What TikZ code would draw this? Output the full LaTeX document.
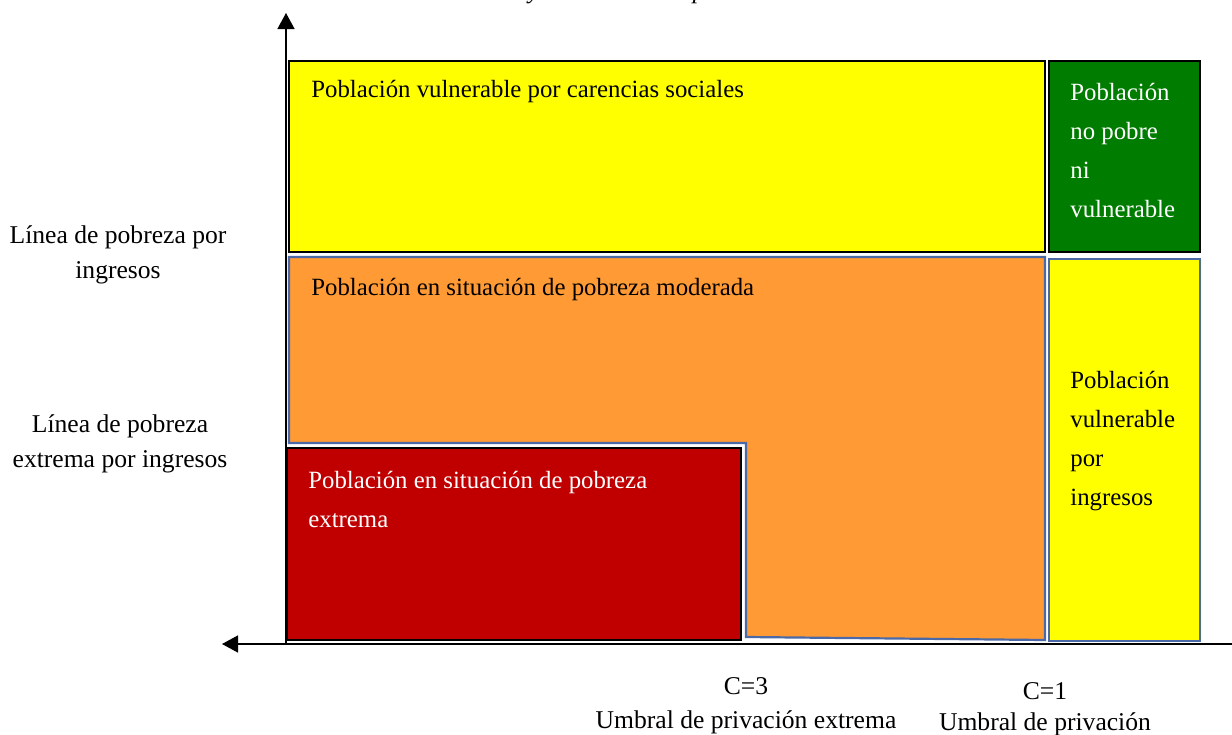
\documentclass[tikz,border=0pt]{standalone}
\usepackage{fontspec}
\setmainfont{Liberation Serif}
\usetikzlibrary{arrows.meta}
\definecolor{cyel}{HTML}{FFFF00}
\definecolor{cgreen}{HTML}{007D00}
\definecolor{corange}{HTML}{FF9A35}
\definecolor{cred}{HTML}{C00000}
\definecolor{cblue}{HTML}{4A69A6}
\tikzset{
  txt/.style={inner sep=0pt, font=\fontsize{12.4}{19.5}\selectfont, align=left},
  lbl/.style={inner sep=0pt, font=\fontsize{12.8}{17.5}\selectfont, align=center},
  blackbox/.style={draw=black, line width=0.6pt},
  bluebox/.style={draw=cblue, line width=1.1pt},
  axis/.style={line width=0.7pt, -{Triangle[width=8.5pt,length=8pt]}},
}
\begin{document}
\begin{tikzpicture}[x=0.5pt,y=-0.5pt]
\useasboundingbox (0,0) rectangle (1232,734);
% partial title (cut at top)
\node[txt, font=\fontsize{12.4}{14}\selectfont\itshape, anchor=base] (ty) at (534,-2) {y};
\node[txt, font=\fontsize{12.4}{14}\selectfont\itshape, anchor=base] (tp) at (699,-2) {p};
% boxes
\fill[cyel, blackbox] (289,61) rectangle (1045,252);
\fill[cgreen, blackbox] (1049,61) rectangle (1200,252);
\fill[corange, bluebox] (289,257) -- (1045,257) -- (1045,640) -- (746,637) -- (746,443) -- (289,443) -- cycle;
\fill[cred, blackbox] (287,448) rectangle (741,640);
\fill[cyel, bluebox] (1049,259) rectangle (1200,641);
% axes
\coordinate (O) at (286,644);
\coordinate (ytop) at (286,13);
\coordinate (xleft) at (222,644);
\coordinate (xright) at (1232,644);
\draw[axis] (O) -- (ytop);
\draw[axis] (xright) -- (xleft);
% texts in boxes
\node[txt, anchor=west] (t1) at (311,92) {Población vulnerable por carencias sociales};
\node[txt, anchor=west, text=white] (t2) at (1070,150) {Población\\no pobre\\ni\\vulnerable};
\node[txt, anchor=west] (t3) at (311,290) {Población en situación de pobreza moderada};
\node[txt, anchor=west, text=white] (t4) at (308,499) {Población en situación de pobreza\\extrema};
\node[txt, anchor=west] (t5) at (1070,441) {Población\\vulnerable\\por\\ingresos};
% axis labels
\node[lbl] (l1) at (118,255) {Línea de pobreza por\\ingresos};
\node[lbl] (l2) at (120,444) {Línea de pobreza\\extrema por ingresos};
\node[lbl] (c3) at (746,686) {C=3};
\node[lbl] (u3) at (746,722) {Umbral de privación extrema};
\node[lbl] (c1) at (1045,691) {C=1};
\node[lbl] (u1) at (1045,724) {Umbral de privación};
\end{tikzpicture}
\end{document}
